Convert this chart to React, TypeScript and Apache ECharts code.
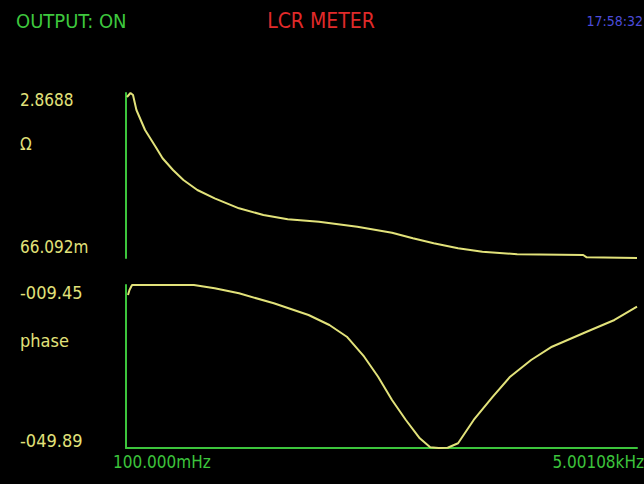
import React, { useEffect, useRef } from "react";
import * as echarts from "echarts";

// Frequency sweep (Hz) and measured impedance magnitude (Ω)
const freqTop = [0.1021, 0.11, 0.116, 0.1247, 0.1497, 0.187, 0.2169, 0.2705, 0.3373, 0.4529, 0.6538, 1.0946, 1.834, 3.07, 5.952, 13.39, 27.94, 43.45, 67.56, 113.1, 189.4, 395.5, 1601, 1724, 5001.08];
const impedance = [2.801, 2.869, 2.835, 2.58, 2.24, 1.957, 1.76, 1.561, 1.391, 1.221, 1.08, 0.91, 0.797, 0.723, 0.683, 0.598, 0.496, 0.401, 0.316, 0.231, 0.173, 0.129, 0.117, 0.078, 0.0661];

// Frequency sweep (Hz) and phase (degrees)
const freqBottom = [0.1043, 0.1077, 0.1136, 0.4205, 0.6538, 1.0946, 2.287, 4.772, 7.421, 10.73, 15.5, 20.81, 27.94, 37.46, 50.29, 62.72, 74.96, 90.74, 113.1, 157.5, 236.2, 340.9, 531.3, 826.1, 1724, 3102, 5001.08];
const phase = [-11.93, -10.69, -9.45, -9.45, -10.27, -11.51, -13.99, -16.89, -19.37, -22.28, -27.24, -32.2, -37.98, -42.94, -47.48, -49.72, -49.89, -49.82, -48.72, -42.94, -37.16, -32.2, -28.06, -24.76, -21.04, -18.13, -14.83];

const impedanceLabels = ["2.8688", "Ω", "66.092m"];
const phaseLabels = ["-009.45", "phase", "-049.89"];
const freqLabels = ["100.000mHz", "5.00108kHz"];
const header = ["OUTPUT: ON", "LCR METER", "17:58:32"];

const F_MIN = 0.1;
const F_MAX = 5001.08;
const Z_MIN = 0.066092;
const Z_MAX = 2.8688;
const P_MIN = -49.89;
const P_MAX = -9.45;

const GREEN = "#3cc43c";
const YELLOW = "#e2e27a";
const FONT = "'DejaVu Sans Condensed', 'DejaVu Sans', sans-serif";

export default function App() {
  const ref = useRef<HTMLDivElement>(null);
  useEffect(() => {
    document.body.style.margin = "0";
    document.body.style.background = "#000";
    const chart = echarts.init(ref.current!, null, { renderer: "svg" });
    const txt = (text: string, x: number, y: number, fill: string, align: string, size = 16) => ({
      type: "text",
      x,
      y,
      style: { text, fill, fontSize: size, fontFamily: FONT, align, verticalAlign: "middle" },
    });
    const axisLine = { show: true, lineStyle: { color: GREEN, width: 2 } };
    const hidden = { axisTick: { show: false }, axisLabel: { show: false }, splitLine: { show: false } };
    chart.setOption({
      animation: false,
      backgroundColor: "#000",
      grid: [
        { left: 126, right: 7, top: 93, height: 165 },
        { left: 126, right: 7, top: 285, height: 163 },
      ],
      xAxis: [
        { type: "log", gridIndex: 0, min: F_MIN, max: F_MAX, logBase: 10, show: false },
        { type: "log", gridIndex: 1, min: F_MIN, max: F_MAX, logBase: 10, axisLine, ...hidden },
      ],
      yAxis: [
        { type: "value", gridIndex: 0, min: Z_MIN, max: Z_MAX, axisLine, ...hidden },
        { type: "value", gridIndex: 1, min: P_MIN, max: P_MAX, axisLine, ...hidden },
      ],
      series: [
        {
          type: "line", xAxisIndex: 0, yAxisIndex: 0, showSymbol: false,
          lineStyle: { color: YELLOW, width: 2 },
          data: freqTop.map((f, i) => [f, impedance[i]]),
        },
        {
          type: "line", xAxisIndex: 1, yAxisIndex: 1, showSymbol: false,
          lineStyle: { color: YELLOW, width: 2 },
          data: freqBottom.map((f, i) => [f, phase[i]]),
        },
      ],
      graphic: [
        txt(header[0], 16, 21, "#3ec83e", "left", 20),
        txt(header[1], 321, 21, "#e02a2a", "center", 21),
        txt(header[2], 643, 21, "#4c4cda", "right", 14),
        txt(impedanceLabels[0], 20, 100, YELLOW, "left", 17),
        txt(impedanceLabels[1], 20, 144, YELLOW, "left", 17),
        txt(impedanceLabels[2], 20, 247, YELLOW, "left", 17),
        txt(phaseLabels[0], 20, 292, YELLOW, "left", 18),
        txt(phaseLabels[1], 20, 340, YELLOW, "left", 18),
        txt(phaseLabels[2], 20, 440, YELLOW, "left", 18),
        txt(freqLabels[0], 113, 462, GREEN, "left", 17),
        txt(freqLabels[1], 644, 462, GREEN, "right", 17),
      ],
    });
    return () => chart.dispose();
  }, []);
  return (
    <div
      ref={ref}
      style={{ position: "fixed", left: 0, top: 0, width: 644, height: 484, background: "#000" }}
    />
  );
}
